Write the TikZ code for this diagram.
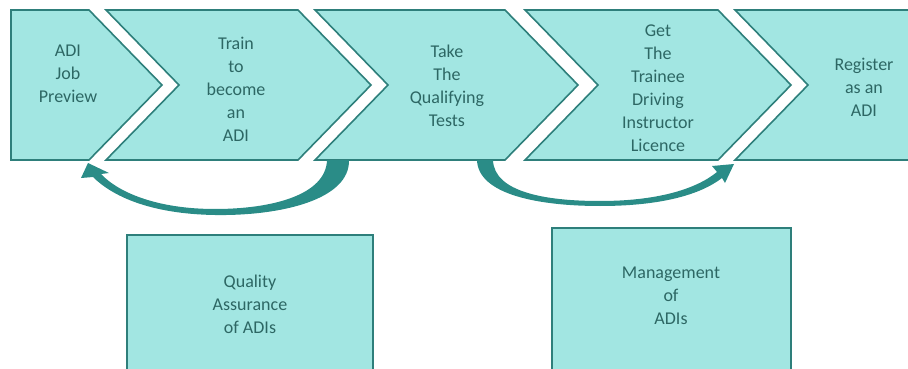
\documentclass[tikz,border=0pt]{standalone}
\usepackage{fontspec}
\setmainfont{Carlito}
\definecolor{aqua}{HTML}{A2E6E2}
\definecolor{tealline}{HTML}{2E7F7B}
\definecolor{tealtext}{HTML}{2D6764}
\definecolor{tealarrow}{HTML}{2A8C87}
\tikzset{
  stage/.style={draw=tealline, fill=aqua, line width=1.6pt, line join=miter},
  steptext/.style={text=tealtext, align=center, font=\fontsize{18}{23}\selectfont},
  looparrow/.style={fill=tealarrow, draw=none}
}

\begin{document}
\begin{tikzpicture}[x=1pt, y=-1pt]
\clip (0,0) rectangle (908,369);
% the five stages
\draw[stage] (11,10) -- (89,10) -- (162,85) -- (89,160) -- (11,160) -- cycle;
\draw[stage] (106,10) -- (298,10) -- (371,85) -- (298,160) -- (106,160) -- (179,85) -- cycle;
\draw[stage] (315,10) -- (505,10) -- (578,85) -- (505,160) -- (315,160) -- (388,85) -- cycle;
\draw[stage] (525,10) -- (718,10) -- (791,85) -- (718,160) -- (525,160) -- (598,85) -- cycle;
\draw[stage] (735,10) -- (925,10) -- (925,160) -- (735,160) -- (808,85) -- cycle;
\node[steptext] (preview) at (68,74) {ADI\\Job\\Preview};
\node[steptext] (train) at (236,89) {Train\\to\\become\\an\\ADI};
\node[steptext] (tests) at (447,86) {Take\\The\\Qualifying\\Tests};
\node[steptext] (licence) at (658,88) {Get\\The\\Trainee\\Driving\\Instructor\\Licence};
\node[steptext] (register) at (864,87) {Register\\as an\\ADI};
% loops back and forward
\fill[looparrow] (349,160) .. controls (350,200) and (280,216) .. (215,215)
  .. controls (150,214) and (112,196) .. (93,177) -- (81,178) -- (88,163) -- (109,173) -- (101,174)
  .. controls (120,194) and (160,209) .. (215,209) .. controls (272,209) and (326,195) .. (327,160) -- cycle;
\fill[looparrow] (477,160) .. controls (478,195) and (540,206) .. (600,206)
  .. controls (660,206) and (700,195) .. (722,178) -- (725,183) -- (734,164) -- (712,166) -- (717,172)
  .. controls (695,190) and (655,201) .. (600,201) .. controls (545,201) and (494,192) .. (493,160) -- cycle;
% oversight boxes
\draw[stage] (127,235) rectangle (373,380);
\draw[stage] (552,228) rectangle (791,380);
\node[steptext] (quality) at (250,304) {Quality\\Assurance\\of ADIs};
\node[steptext] (manage) at (671,296) {Management\\of\\ADIs};
\end{tikzpicture}
\end{document}
